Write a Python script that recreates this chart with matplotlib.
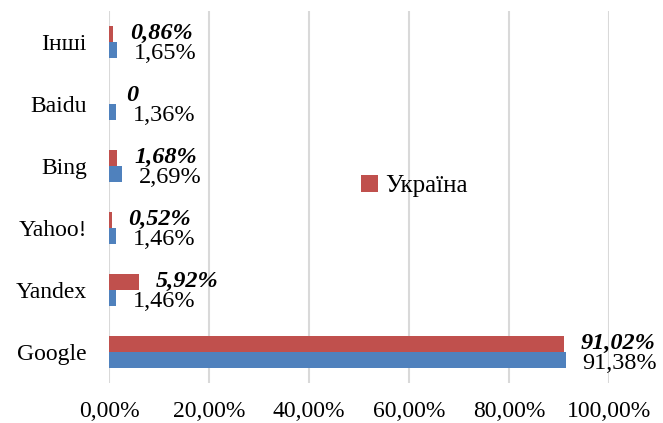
import matplotlib.pyplot as plt
import numpy as np

categories = ["Google", "Yandex", "Yahoo!", "Bing", "Baidu", "Інші"]
world_share = [91.38, 1.46, 1.46, 2.69, 1.36, 1.65]
ukraine_share = [91.02, 5.92, 0.52, 1.68, 0.0, 0.86]
ukraine_name = "Україна"
x_ticks = [0, 20, 40, 60, 80, 100]

BLUE = "#4f81bd"
RED = "#c0504d"
GRID = "#d9d9d9"


def fmt_pct(v):
	if v == 0:
		return "0"
	return f"{v:.2f}".replace(".", ",") + "%"


plt.rcParams["font.family"] = ["Liberation Serif", "DejaVu Serif"]
plt.rcParams["font.size"] = 17

fig = plt.figure(figsize=(6.63, 4.23), dpi=100)
ax = fig.add_axes([109 / 663, 1 - 383 / 423, 500 / 663, 372 / 423])

y = np.arange(len(categories))
h = 0.258
ax.barh(y - h / 2, world_share, height=h, color=BLUE, zorder=3)
ax.barh(y + h / 2, ukraine_share, height=h, color=RED, label=ukraine_name, zorder=3)

# data labels, same offset as in the source chart
for yi, v in zip(y, world_share):
	ax.annotate(fmt_pct(v), (v, yi - h / 2), xytext=(12, -2.5), textcoords="offset points",
				ha="left", va="center", color="black", fontsize=17.5)
for yi, v in zip(y, ukraine_share):
	ax.annotate(fmt_pct(v), (v, yi + h / 2), xytext=(12, 0.5), textcoords="offset points",
				ha="left", va="center", color="black", fontsize=17.5,
				fontweight="bold", fontstyle="italic")

ax.set_xlim(0, 100)
ax.set_ylim(-0.5, len(categories) - 0.5)
ax.set_xticks(x_ticks)
ax.set_xticklabels([f"{t:.2f}".replace(".", ",") + "%" for t in x_ticks])
ax.set_yticks(y)
ax.set_yticklabels(categories)
ax.tick_params(axis="both", length=0)
ax.tick_params(axis="x", pad=13)
ax.tick_params(axis="y", pad=16)
ax.xaxis.grid(True, color=GRID, linewidth=1.5, zorder=0)
for s in ax.spines.values():
	s.set_visible(False)

ax.legend(loc="center left", bbox_to_anchor=(361 / 663, 1 - 186 / 423),
		  bbox_transform=fig.transFigure, frameon=False, handlelength=0.7,
		  handleheight=0.7, handletextpad=0.25, borderpad=0, borderaxespad=0,
		  fontsize=18)

fig.savefig("out.png", dpi=100)
